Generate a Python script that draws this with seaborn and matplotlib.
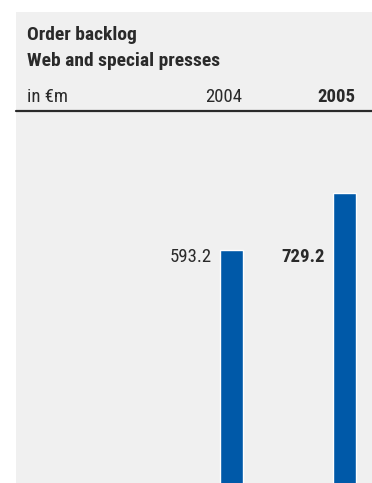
import matplotlib
matplotlib.use("Agg")
import matplotlib.pyplot as plt
import seaborn as sns
import pandas as pd
from matplotlib.patches import Rectangle

years = ["2004", "2005"]
values = [593.2, 729.2]
value_labels = ["593.2", "729.2"]
title_lines = ["Order backlog", "Web and special presses"]
unit_label = "in €m"

sns.set_theme(style="white")
FONT = ["Roboto Condensed", "DejaVu Sans"]
plt.rcParams["font.family"] = FONT

W, H = 372, 483
fig = plt.figure(figsize=(W / 100, H / 100), dpi=100, facecolor="white")

def fx(px):
    return px / W

def fy(py):
    return 1 - py / H

# gray background panel
fig.patches.append(Rectangle((fx(16), 0), 1 - fx(16), fy(12), transform=fig.transFigure,
                             facecolor="#f0f0f0", edgecolor="none", zorder=-5))

ax = fig.add_axes([fx(16), 0, 1 - fx(16), fy(112)])
ax.set_facecolor("#f0f0f0")

df = pd.DataFrame({"year": years, "value": values})
sns.barplot(data=df, x="year", y="value", color="#0059a8", width=0.2035,
            saturation=1, ax=ax)
ax.set_xlim(-1.907, 1.243)
ax.set_ylim(37, 922)
for s in ax.spines.values():
    s.set_visible(False)
ax.set_xticks([])
ax.set_yticks([])
ax.set_xlabel("")
ax.set_ylabel("")

dark = "#2a2a2a"
# value labels sit on a common line, level with the top of the lower bar
label_level = min(values)
for i, lab in enumerate(value_labels):
    ax.annotate(lab, xy=(i - 0.1017, label_level), xytext=(-6, -5.5), textcoords="offset points",
                ha="right", va="center", fontsize=13.5, color=dark,
                fontweight="bold" if i == 1 else "normal")

# header texts
fig.text(fx(27), fy(40), title_lines[0], fontsize=14, fontweight="bold", color=dark, va="baseline")
fig.text(fx(27), fy(66), title_lines[1], fontsize=14, fontweight="bold", color=dark, va="baseline")
fig.text(fx(27), fy(102), unit_label, fontsize=13.5, fontweight="normal", color=dark, va="baseline")
fig.text(fx(242), fy(102), years[0], fontsize=13.5, fontweight="normal", color=dark, va="baseline", ha="right")
fig.text(fx(355), fy(102), years[1], fontsize=13.5, fontweight="bold", color=dark, va="baseline", ha="right")

# separator line
fig.add_artist(plt.Line2D([fx(16), 1], [fy(111), fy(111)], transform=fig.transFigure,
                          color=dark, linewidth=1.6))

fig.savefig("out.png", dpi=100, facecolor="white")
